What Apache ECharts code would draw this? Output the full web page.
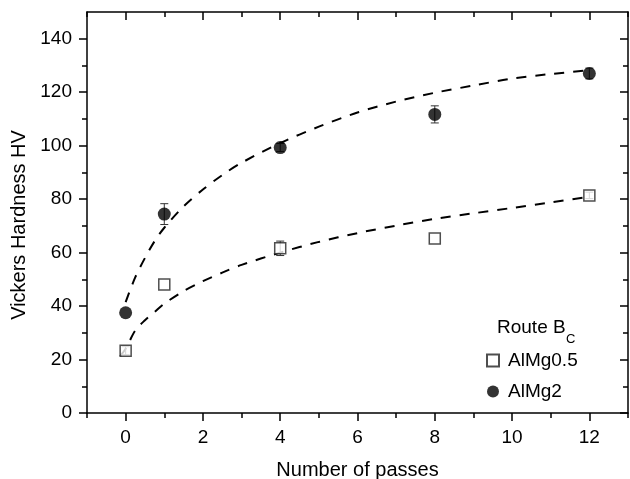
<!DOCTYPE html>
<html>
<head>
<meta charset="utf-8">
<script src="https://cdn.jsdelivr.net/npm/echarts@6/dist/echarts.min.js"></script>
<style>
  html, body { margin: 0; padding: 0; background: #fff; }
  #chart { width: 630px; height: 479px; }
</style>
</head>
<body>
<div id="chart"></div>
<script>
// measured points
var passes = [0, 1, 4, 8, 12];
var almg05 = [23.3, 48.1, 61.6, 65.3, 81.4];
var almg05Err = [1.5, 0, 2.7, 0, 1.2];
var almg2 = [37.5, 74.4, 99.3, 111.7, 127.0];
var almg2Err = [0, 3.9, 1.5, 3.2, 2.0];

// dashed fit curves
var fit05X = [-0.14, 0, 0.25, 0.5, 0.75, 1, 1.5, 2, 2.5, 3, 4, 5, 6, 7, 8, 9, 10, 11, 12];
var fit05Y = [21.3, 24, 30.9, 34.7, 37.8, 40.9, 45.6, 49.3, 52.5, 55.4, 60, 64, 67.3, 70.1, 72.6, 74.7, 76.7, 78.8, 80.9];
var fit2X = [0, 0.25, 0.5, 0.75, 1, 1.5, 2, 2.5, 3, 4, 5, 6, 7, 8, 9, 10, 11, 12];
var fit2Y = [41.5, 50.8, 58, 64.3, 69.3, 77.3, 83.6, 89, 93.6, 101, 107.1, 112.4, 116.5, 119.8, 122.5, 125.1, 126.8, 128.2];

// ticks
var xTicks = [0, 2, 4, 6, 8, 10, 12];
var xMinor = [-1, 1, 3, 5, 7, 9, 11, 13];
var yTicks = [0, 20, 40, 60, 80, 100, 120, 140];
var yMinor = [10, 30, 50, 70, 90, 110, 130];

var font = '"Liberation Sans", Arial, sans-serif';
var black = '#000';

function pairs(xs, ys) {
  return xs.map(function (x, i) { return [x, ys[i]]; });
}
function errData(ys, errs) {
  var out = [];
  passes.forEach(function (x, i) {
    if (errs[i] > 0) out.push([x, ys[i] - errs[i], ys[i] + errs[i]]);
  });
  return out;
}
function renderErr(params, api) {
  var x = api.value(0);
  var top = api.coord([x, api.value(2)]);
  var bot = api.coord([x, api.value(1)]);
  var w = 4;
  var st = { stroke: '#333', lineWidth: 1 };
  return {
    type: 'group',
    children: [
      { type: 'line', shape: { x1: top[0], y1: top[1], x2: bot[0], y2: bot[1] }, style: st },
      { type: 'line', shape: { x1: top[0] - w, y1: top[1], x2: top[0] + w, y2: top[1] }, style: st },
      { type: 'line', shape: { x1: bot[0] - w, y1: bot[1], x2: bot[0] + w, y2: bot[1] }, style: st }
    ]
  };
}

function xAx(pos, ticks, len, inside, main) {
  return {
    type: 'value', min: -1, max: 13, position: pos,
    axisLine: { show: main, onZero: false, lineStyle: { color: black, width: 1.5 } },
    axisTick: { customValues: ticks, length: len, inside: inside, lineStyle: { color: black, width: 1.5 } },
    axisLabel: { show: main && pos === 'bottom', customValues: xTicks, margin: 15, color: black, fontSize: 19, fontFamily: font },
    splitLine: { show: false }
  };
}
function yAx(pos, ticks, len, inside, main) {
  return {
    type: 'value', min: 0, max: 150, position: pos,
    axisLine: { show: main, onZero: false, lineStyle: { color: black, width: 1.5 } },
    axisTick: { customValues: ticks, length: len, inside: inside, lineStyle: { color: black, width: 1.5 } },
    axisLabel: { show: main && pos === 'left', customValues: yTicks, margin: 15, color: black, fontSize: 19, fontFamily: font },
    splitLine: { show: false }
  };
}

var xMain = xAx('bottom', xTicks, 8, false, true);
xMain.name = 'Number of passes';
xMain.nameLocation = 'middle';
xMain.nameGap = 47;
xMain.nameTextStyle = { color: black, fontSize: 20, fontFamily: font };

var yMain = yAx('left', yTicks, 8, false, true);
yMain.name = 'Vickers Hardness HV';
yMain.nameLocation = 'middle';
yMain.nameGap = 58;
yMain.nameTextStyle = { color: black, fontSize: 20, fontFamily: font, padding: [0, 25, 0, 0] };

var option = {
  animation: false,
  backgroundColor: '#fff',
  grid: { left: 87, right: 2, top: 12, bottom: 66, outerBoundsMode: 'none', containLabel: false },
  xAxis: [
    xMain,
    xAx('bottom', xMinor, 5, false, false),
    xAx('top', xTicks, 8, true, true),
    xAx('top', xMinor, 5, true, false)
  ],
  yAxis: [
    yMain,
    yAx('left', yMinor, 5, false, false),
    yAx('right', yTicks, 8, true, true),
    yAx('right', yMinor, 5, true, false)
  ],
  legend: {
    data: ['AlMg0.5', 'AlMg2'],
    orient: 'vertical',
    left: 481,
    top: 346,
    itemWidth: 12,
    itemHeight: 12,
    itemGap: 12,
    textStyle: { color: black, fontSize: 19, fontFamily: font, padding: [0, 0, 0, 4] }
  },
  graphic: [
    { type: 'text', left: 497, top: 318, style: { text: 'Route B', fill: black, font: '19px ' + font } },
    { type: 'text', left: 566, top: 333, style: { text: 'C', fill: black, font: '13px ' + font } }
  ],
  series: [
    {
      type: 'line', data: pairs(fit05X, fit05Y), smooth: 0.3, symbol: 'none', z: 1,
      lineStyle: { color: black, width: 2, type: [10, 9] }
    },
    {
      type: 'line', data: pairs(fit2X, fit2Y), smooth: 0.3, symbol: 'none', z: 1,
      lineStyle: { color: black, width: 2, type: [10, 9] }
    },
    { type: 'custom', renderItem: renderErr, data: errData(almg05, almg05Err), encode: { x: 0, y: [1, 2] }, z: 2 },
    { type: 'custom', renderItem: renderErr, data: errData(almg2, almg2Err), encode: { x: 0, y: [1, 2] }, z: 2 },
    {
      name: 'AlMg0.5', type: 'scatter', data: pairs(passes, almg05), symbol: 'rect', symbolSize: 11, z: 3,
      itemStyle: { color: '#fff', borderColor: '#222', borderWidth: 1.5 }
    },
    {
      name: 'AlMg2', type: 'scatter', data: pairs(passes, almg2), symbol: 'circle', symbolSize: 13, z: 3,
      itemStyle: { color: black }
    }
  ]
};

var myChart = echarts.init(document.getElementById('chart'));
myChart.setOption(option);
</script>
</body>
</html>
